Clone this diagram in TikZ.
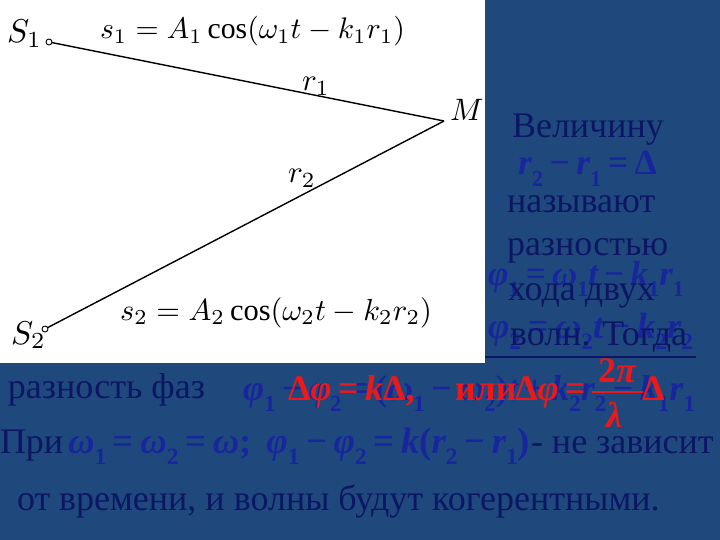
\documentclass[tikz,border=0pt]{standalone}
\usepackage{fontspec}
\setmainfont{Liberation Serif}
\usepackage{graphicx}
\definecolor{bgblue}{RGB}{31,73,125}
\definecolor{navy}{RGB}{12,22,100}
\definecolor{mblue}{RGB}{24,38,158}
\definecolor{fred}{RGB}{235,25,25}
\newcommand\lo[1]{\raisebox{-0.32em}{\fontsize{23}{23}\selectfont\upshape #1}}
\newcommand\op[1]{\hspace{0.18em}{\upshape #1}\hspace{0.18em}}
\begin{document}
\begin{tikzpicture}[x=1pt,y=-1pt,
  every node/.style={inner sep=0pt,outer sep=0pt},
  txt/.style={anchor=base west,text=navy,font=\fontsize{36}{40}\selectfont},
  mth/.style={anchor=base west,text=mblue,font=\fontsize{36}{40}\selectfont\bfseries\itshape},
  rth/.style={anchor=base west,text=fred,font=\fontsize{36}{40}\selectfont\bfseries},
  lbl/.style={anchor=base west,text=black},
  dot/.style={circle,draw=black,line width=0.9pt,minimum size=6pt},
  wire/.style={draw=black,line width=1.4pt}]
\useasboundingbox (0,0) rectangle (720,540);
\fill[bgblue] (0,0) rectangle (720,540);
\fill[white] (0,0) rectangle (485,363);
% top diagram
\node[dot] (p1) at (49,42) {};
\node[dot] (p2) at (45,329) {};
\coordinate (M) at (444,121);
\draw[wire] (p1) -- (M);
\draw[wire] (p2) -- (M);
\node[lbl] (S1) at (7,43) {\scalebox{3.3}{$S_1$}};
\node[lbl] (S2) at (11,344) {\scalebox{3.3}{$S_2$}};
\node[lbl] (Ml) at (450,121) {\scalebox{3.1}{$M$}};
\node[lbl] (r1) at (302,91) {\scalebox{3.1}{$r_1$}};
\node[lbl] (r2) at (288,183) {\scalebox{3.1}{$r_2$}};
\node[lbl] (e1) at (100,39) {\resizebox{305pt}{!}{$s_1 = A_1\cos(\omega_1 t - k_1 r_1)$}};
\node[lbl] (e2) at (120,320) {\resizebox{312pt}{!}{$s_2 = A_2\cos(\omega_2 t - k_2 r_2)$}};
% right column
\node[txt] (t1) at (512,138) {Величину};
\node[mth] (m1) at (518,175) {\resizebox{139pt}{!}{r\lo{2}\op{−}r\lo{1}\op{=}\upshape Δ}};
\node[txt] (t2) at (507,212) {называют};
\node[txt] (t3) at (507,255) {разностью};
\node[mth] (m2) at (488,285) {\resizebox{196pt}{!}{φ\lo{1}\op{=}ω\lo{1}t\op{−}k\lo{1}r\lo{1}}};
\node[txt] (t4) at (508,300) {хода двух};
\node[mth] (m3) at (488,338) {\resizebox{205pt}{!}{φ\lo{2}\op{=}ω\lo{2}t\op{−}k\lo{2}r\lo{2}}};
\node[txt] (t5) at (510,345) {волн. Тогда};
\draw[navy,line width=2pt] (485,357) -- (696,357);
% bottom
\node[txt] (t6) at (8,398) {разность фаз};
\node[mth] (m4) at (243,400) {\resizebox{452pt}{!}{φ\lo{1}\op{−}φ\lo{2}\op{=}\upshape(\itshape ω\lo{1}\op{−}ω\lo{2}\upshape)\itshape t\op{+}k\lo{2}r\lo{2}\op{−}k\lo{1}r\lo{1}}};
\node[rth] (red1) at (288,400) {Δ\textit{φ}\op{=}\textit{k}Δ,};
\node[rth] (red2) at (455,400) {или};
\node[rth] (red3) at (515,400) {Δ\textit{φ}\op{=}};
\node[rth] (num) at (598,382) {2\textit{π}};
\node[rth] (den) at (606,427) {\textit{λ}};
\draw[fred,line width=2pt] (592,392) -- (643,392);
\node[rth] (red4) at (642,400) {Δ};
\node[txt] (t7) at (0,453) {При};
\node[mth] (m5) at (68,453) {\resizebox{462pt}{!}{ω\lo{1}\op{=}ω\lo{2}\op{=}ω\upshape;\hspace{0.4em}\itshape φ\lo{1}\op{−}φ\lo{2}\op{=}k\upshape(\itshape r\lo{2}\op{−}r\lo{1}\upshape)}};
\node[txt] (t8) at (531,453) {- не зависит};
\node[txt] (t9) at (17,510) {от времени, и волны будут когерентными.};
\end{tikzpicture}
\end{document}
